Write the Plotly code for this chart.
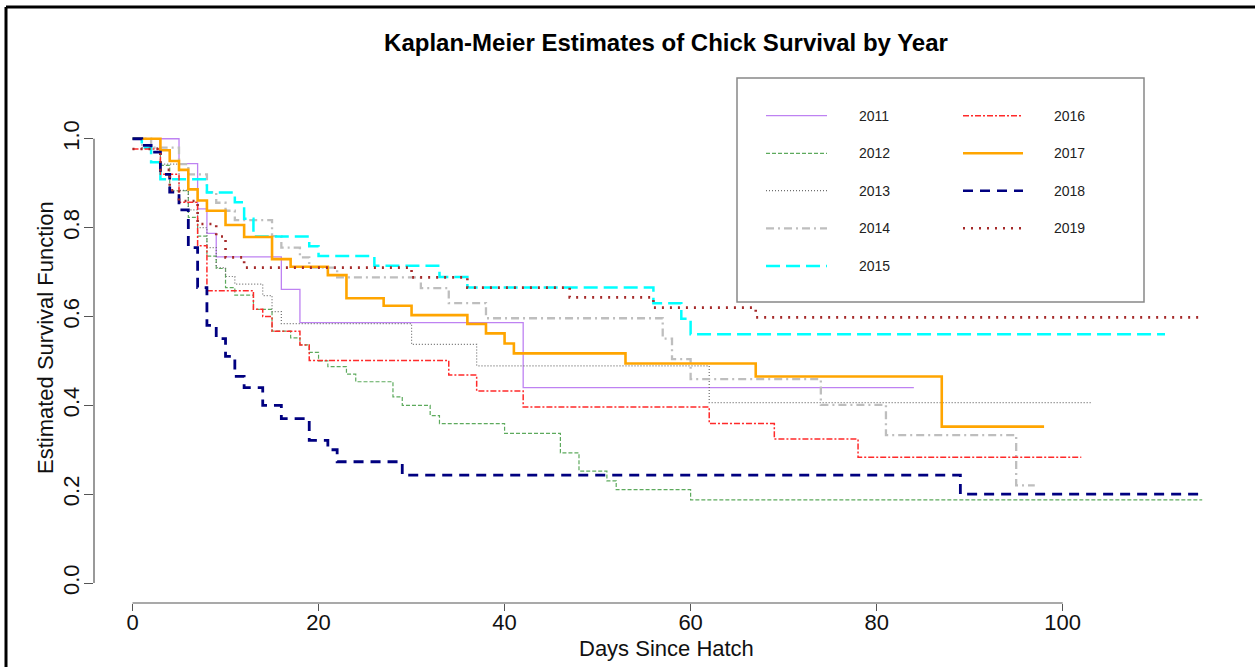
import plotly.graph_objects as go

# ---------------- data ----------------
years = ["2011", "2012", "2013", "2014", "2015", "2016", "2017", "2018", "2019"]

t2011 = [0, 5, 7, 8, 9, 16, 18, 42, 84]
s2011 = [1.0, 0.944, 0.842, 0.787, 0.734, 0.661, 0.586, 0.44, 0.44]

t2012 = [0, 3, 4, 6, 7, 8, 9, 10, 11, 13, 15, 17, 18, 19, 20, 21, 23, 24, 28, 29, 32, 33, 40, 46, 48, 51, 52, 60, 115]
s2012 = [1.0, 0.94, 0.883, 0.823, 0.781, 0.736, 0.708, 0.665, 0.648, 0.616, 0.567, 0.552, 0.536, 0.519, 0.50, 0.487,
         0.47, 0.453, 0.419, 0.40, 0.377, 0.359, 0.337, 0.293, 0.252, 0.23, 0.21, 0.187, 0.187]

t2013 = [0, 1, 3, 5, 6, 7, 8, 9, 10, 11, 14, 15, 16, 30, 37, 62, 103]
s2013 = [1.0, 0.98, 0.943, 0.884, 0.84, 0.80, 0.755, 0.71, 0.69, 0.673, 0.647, 0.611, 0.584, 0.537, 0.489, 0.406, 0.406]

t2014 = [0, 2, 5, 6, 8, 9, 10, 11, 15, 16, 18, 19, 22, 31, 34, 38, 57, 58, 60, 74, 81, 95, 97]
s2014 = [1.0, 0.98, 0.943, 0.92, 0.88, 0.856, 0.838, 0.817, 0.781, 0.755, 0.733, 0.71, 0.688, 0.664, 0.63, 0.596,
         0.55, 0.504, 0.459, 0.401, 0.333, 0.22, 0.22]

t2015 = [0, 1, 2, 3, 8, 11, 12, 13, 19, 20, 26, 33, 36, 56, 59, 60, 111]
s2015 = [1.0, 0.98, 0.947, 0.909, 0.879, 0.857, 0.82, 0.78, 0.758, 0.736, 0.714, 0.689, 0.665, 0.63, 0.595, 0.56, 0.56]

t2016 = [0, 3, 5, 7, 8, 13, 14, 15, 18, 19, 34, 37, 42, 62, 69, 78, 102]
s2016 = [0.977, 0.92, 0.857, 0.759, 0.658, 0.616, 0.60, 0.567, 0.536, 0.501, 0.468, 0.432, 0.396, 0.359, 0.324, 0.283, 0.283]

t2017 = [0, 3, 4, 5, 6, 7, 8, 10, 12, 15, 17, 21, 23, 27, 30, 36, 38, 40, 41, 53, 67, 87, 98]
s2017 = [1.0, 0.974, 0.95, 0.93, 0.886, 0.861, 0.838, 0.806, 0.779, 0.729, 0.712, 0.693, 0.641, 0.624, 0.603, 0.583,
         0.562, 0.539, 0.517, 0.494, 0.465, 0.352, 0.352]

t2018 = [0, 1, 2, 3, 4, 5, 6, 7, 8, 9, 10, 11, 12, 14, 16, 19, 21, 22, 29, 89, 115]
s2018 = [1.0, 0.985, 0.97, 0.92, 0.88, 0.84, 0.755, 0.665, 0.58, 0.55, 0.51, 0.465, 0.44, 0.40, 0.37, 0.321, 0.30,
         0.273, 0.243, 0.20, 0.20]

t2019 = [0, 3, 4, 5, 7, 9, 10, 12, 30, 36, 47, 56, 67, 115]
s2019 = [0.977, 0.93, 0.884, 0.86, 0.808, 0.78, 0.733, 0.71, 0.688, 0.665, 0.643, 0.62, 0.598, 0.598]

x_ticks = [0, 20, 40, 60, 80, 100]
y_ticks = [0.0, 0.2, 0.4, 0.6, 0.8, 1.0]

# ---------------- styles ----------------
times = [t2011, t2012, t2013, t2014, t2015, t2016, t2017, t2018, t2019]
survs = [s2011, s2012, s2013, s2014, s2015, s2016, s2017, s2018, s2019]
colors = ["#BE82F2", "#5DAA5D", "#6E6E6E", "#BEBEBE", "#00FFFF", "#FF2A2A", "#FFA500", "#000080", "#A52A2A"]
dashes = ["solid", "4px,2px", "1px,2px", "8px,4px,2px,4px", "14px,6px", "6px,2px,2px,2px", "solid", "10px,7px", "2px,6px"]
widths = [1.3, 1.2, 1.2, 2.3, 2.5, 1.5, 2.6, 2.8, 2.6]

FONT = "Liberation Sans, Arial, sans-serif"
W, H = 1255, 667
L, R, T, B = 94, 10, 121, 64
PW, PH = W - L - R, H - T - B


def px2paper_x(px):
    return (px - L) / PW


def px2paper_y(py):
    return (H - B - py) / PH


fig = go.Figure()
for yr, t, s, c, d, w in zip(years, times, survs, colors, dashes, widths):
    fig.add_trace(go.Scatter(
        x=t, y=s, mode="lines", name=yr,
        line=dict(color=c, dash=d, width=w, shape="hv"),
        showlegend=False, hoverinfo="x+y+name",
    ))

shapes = []
# axis lines spanning only first..last tick (R style)
shapes.append(dict(type="line", xref="x", yref="paper", x0=x_ticks[0], x1=x_ticks[-1], y0=0, y1=0,
                   line=dict(color="#555555", width=1.2)))
shapes.append(dict(type="line", xref="paper", yref="y", x0=0, x1=0, y0=y_ticks[0], y1=y_ticks[-1],
                   line=dict(color="#555555", width=1.2)))
# outer frame (top and left visible)
shapes.append(dict(type="line", xref="paper", yref="paper", x0=px2paper_x(6), x1=px2paper_x(1300),
                   y0=px2paper_y(7), y1=px2paper_y(7), line=dict(color="black", width=3)))
shapes.append(dict(type="line", xref="paper", yref="paper", x0=px2paper_x(6), x1=px2paper_x(6),
                   y0=px2paper_y(7), y1=px2paper_y(700), line=dict(color="black", width=3)))
# legend box
shapes.append(dict(type="rect", xref="paper", yref="paper", x0=px2paper_x(737), x1=px2paper_x(1144),
                   y0=px2paper_y(302), y1=px2paper_y(78), line=dict(color="#888888", width=1.5),
                   fillcolor="white", layer="above"))

annotations = []
row_y = [115.7, 153.3, 190.7, 228.3, 266.0]
for i, yr in enumerate(years):
    col, row = divmod(i, 5)
    lx0, lx1, tx = (766, 827, 857) if col == 0 else (963, 1023, 1052)
    py = row_y[row]
    shapes.append(dict(type="line", xref="paper", yref="paper", x0=px2paper_x(lx0), x1=px2paper_x(lx1),
                       y0=px2paper_y(py), y1=px2paper_y(py), layer="above",
                       line=dict(color=colors[i], dash=dashes[i], width=min(widths[i], 2.5))))
    annotations.append(dict(xref="paper", yref="paper", x=px2paper_x(tx), y=px2paper_y(py), text=yr,
                            showarrow=False, xanchor="left", yanchor="middle",
                            font=dict(family=FONT, size=14, color="#222222")))

# axis titles (placed like R's mtext)
annotations.append(dict(xref="paper", yref="paper", x=px2paper_x(666), y=px2paper_y(648),
                        text="Days Since Hatch", showarrow=False, xanchor="center", yanchor="middle",
                        font=dict(family=FONT, size=22, color="#111111")))
annotations.append(dict(xref="paper", yref="paper", x=px2paper_x(45), y=px2paper_y(338),
                        text="Estimated Survival Function", showarrow=False, textangle=-90,
                        xanchor="center", yanchor="middle",
                        font=dict(family=FONT, size=22, color="#111111")))

fig.update_layout(
    width=W, height=H,
    margin=dict(l=L, r=R, t=T, b=B, autoexpand=False),
    paper_bgcolor="white", plot_bgcolor="white",
    title=dict(text="<b>Kaplan-Meier Estimates of Chick Survival by Year</b>",
               x=px2paper_x(666), xref="paper", xanchor="center",
               y=1 - 43 / H, yref="container", yanchor="middle",
               font=dict(family=FONT, size=24, color="black")),
    xaxis=dict(range=[-4.14, 119.6], tickvals=x_ticks, ticktext=[str(v) for v in x_ticks],
               showgrid=False, zeroline=False, showline=False, automargin=False,
               ticks="outside", ticklen=7, tickcolor="#555555", tickwidth=1.2,
               ticklabelstandoff=-7,
               tickfont=dict(family=FONT, size=22, color="#111111")),
    yaxis=dict(range=[-0.045, 1.04], tickvals=y_ticks, ticktext=["%.1f" % v for v in y_ticks],
               showgrid=False, zeroline=False, showline=False, automargin=False,
               ticks="outside", ticklen=9, tickcolor="#555555", tickwidth=1.2, tickangle=-90,
               ticklabelstandoff=-4,
               tickfont=dict(family=FONT, size=22, color="#111111")),
    shapes=shapes,
    annotations=annotations,
)

fig.write_html("out.html")
